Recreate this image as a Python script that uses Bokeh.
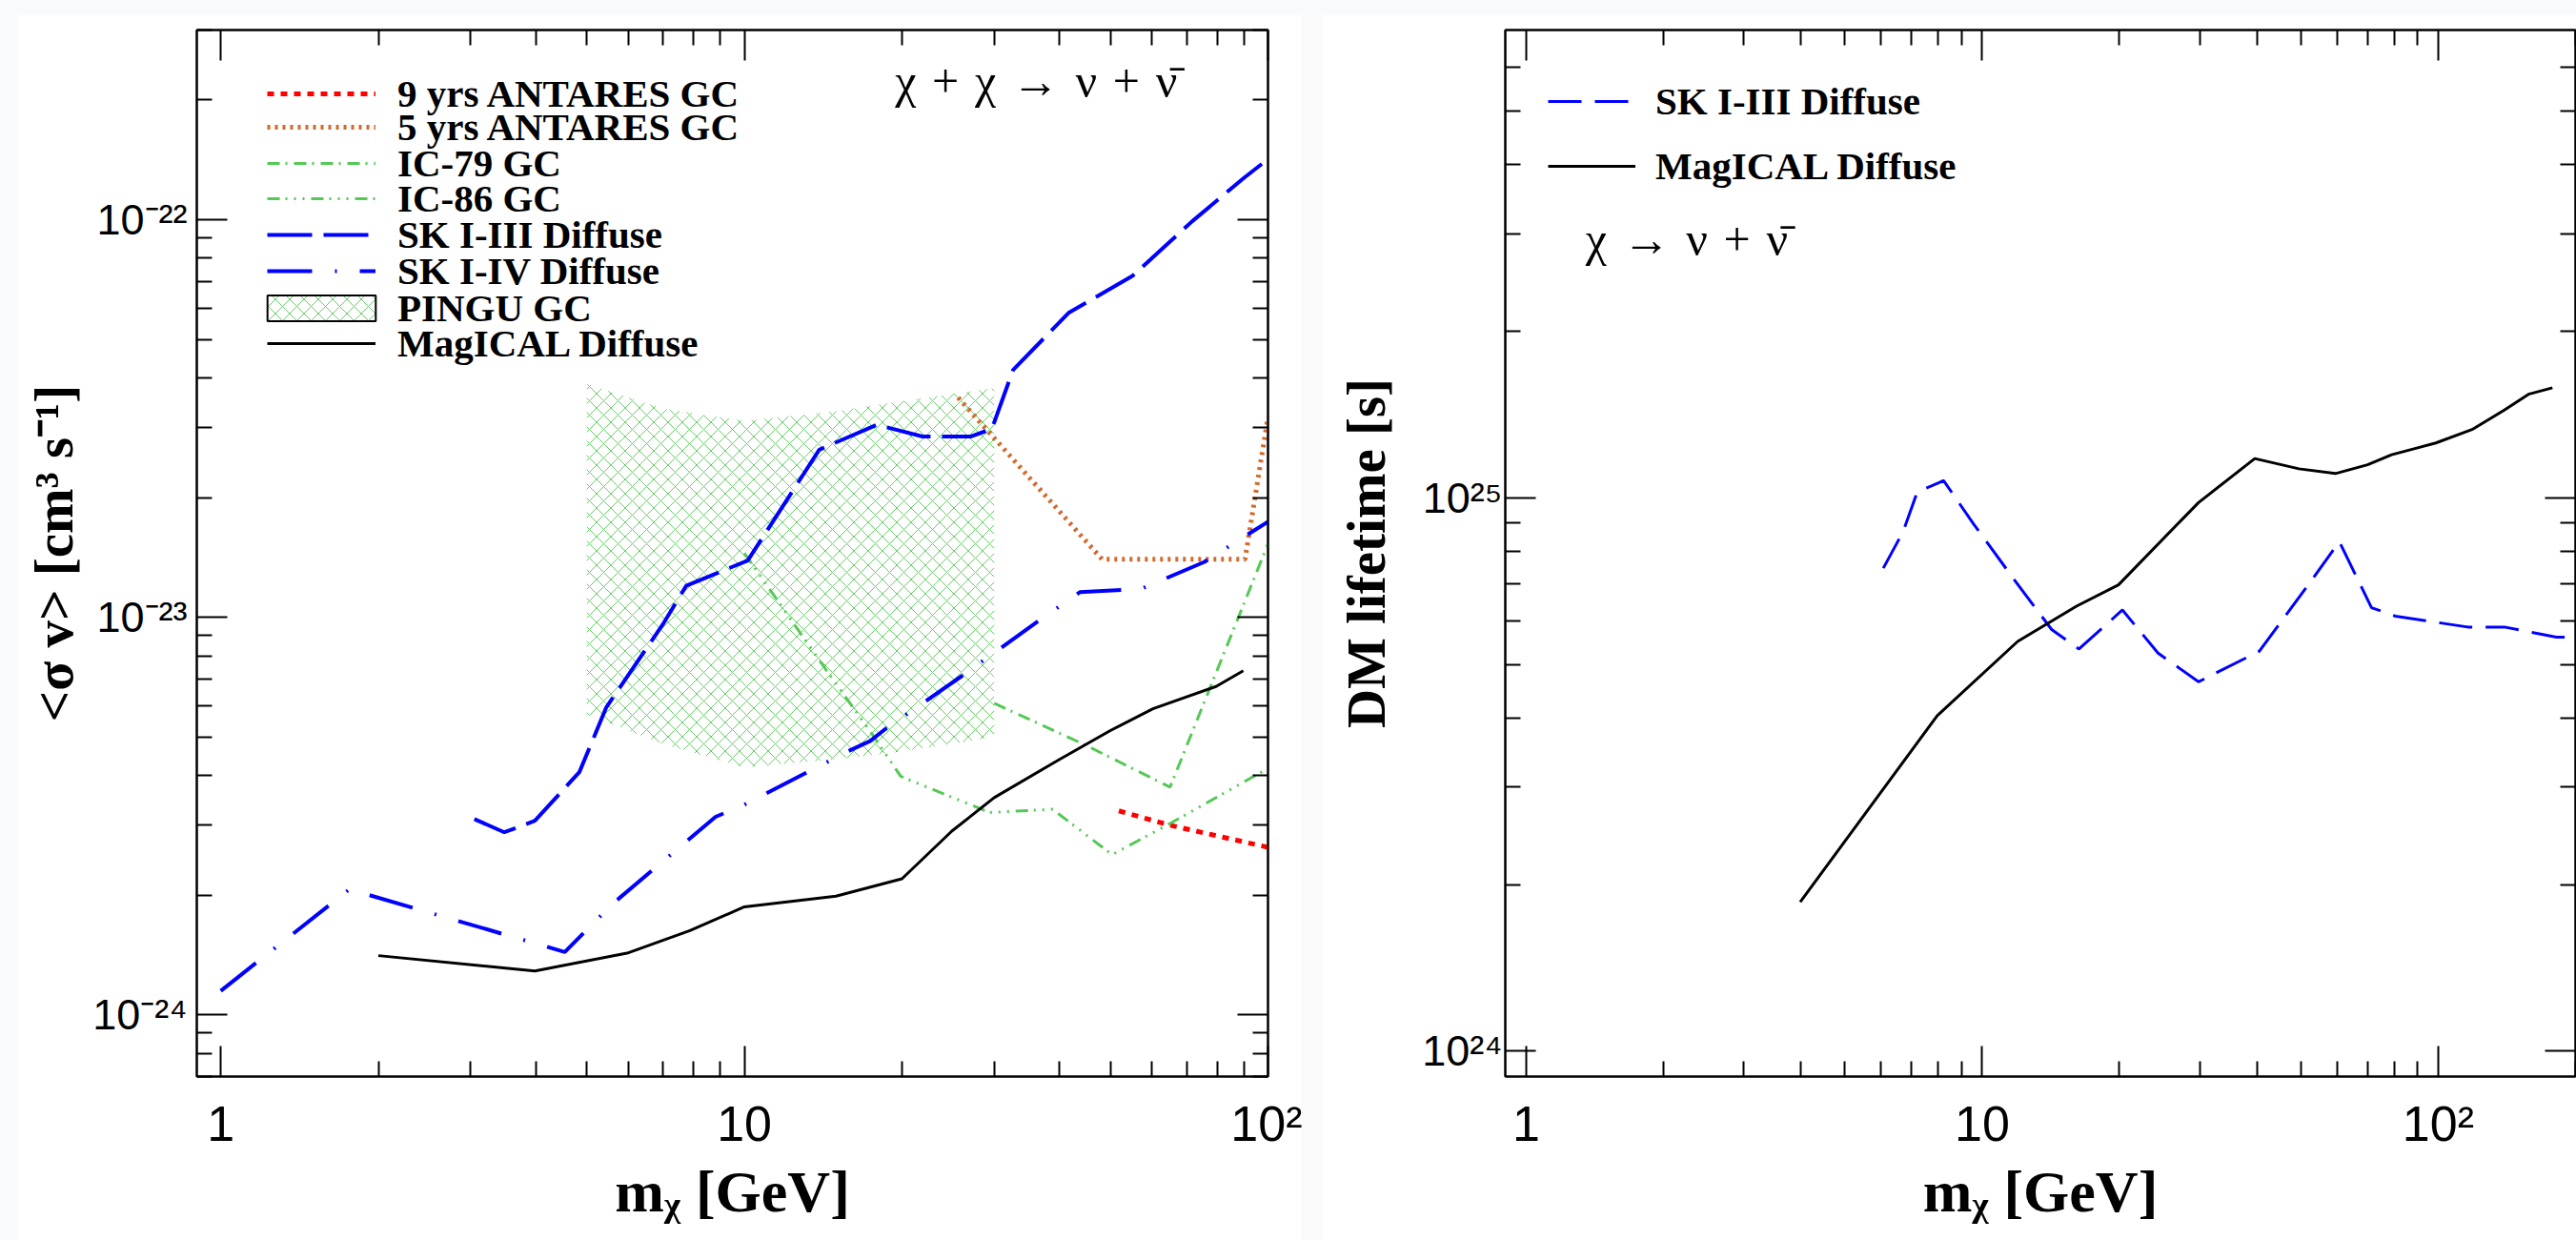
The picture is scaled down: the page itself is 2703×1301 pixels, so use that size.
from bokeh.plotting import figure
from bokeh.models import (LogAxis, FixedTicker, Legend, LegendItem, Label, Spacer, Range1d)
from bokeh.layouts import row, column
from bokeh.embed import file_html
from bokeh.resources import INLINE

# ---------------- Left panel data: <sigma v> vs m_chi ----------------
ant9_m = [51.9, 65.0, 100.0]
ant9_sv = [3.26e-24, 3.0e-24, 2.64e-24]

ant5_m = [25.6, 48.2, 90.4, 100.0]
ant5_sv = [3.57e-23, 1.40e-23, 1.40e-23, 3.19e-23]

ic79_m = [30.0, 44.7, 65.0, 100.0]
ic79_sv = [6.08e-24, 4.78e-24, 3.74e-24, 1.53e-23]

ic86_m = [10.0, 14.3, 17.6, 19.9, 29.4, 38.8, 50.4, 65.0, 100.0]
ic86_sv = [1.45e-23, 7.4e-24, 5.05e-24, 3.98e-24, 3.23e-24, 3.29e-24, 2.53e-24, 3.03e-24, 4.17e-24]

sk3_m = [3.05, 3.48, 3.98, 4.84, 5.45, 6.98, 7.74, 10.15, 13.9, 17.9, 21.9, 27.1, 29.7, 32.6, 41.6, 55.1, 71.6, 89.7, 100.0]
sk3_sv = [3.11e-24, 2.88e-24, 3.08e-24, 4.08e-24, 5.94e-24, 9.58e-24, 1.20e-23, 1.39e-23, 2.64e-23, 3.05e-23,
          2.85e-23, 2.85e-23, 2.98e-23, 4.19e-23, 5.83e-23, 7.22e-23, 9.9e-23, 1.27e-22, 1.42e-22]

sk4_m = [1.0, 1.76, 4.54, 5.62, 8.81, 10.0, 13.1, 15.8, 17.4, 18.6, 26.1, 36.2, 43.7, 57.3, 75.5, 100.0]
sk4_sv = [1.15e-24, 2.07e-24, 1.44e-24, 1.91e-24, 3.15e-24, 3.38e-24, 4.06e-24, 4.61e-24, 4.89e-24, 5.24e-24,
          7.14e-24, 9.73e-24, 1.157e-23, 1.18e-23, 1.377e-23, 1.74e-23]

pingu_m = [5.0, 7.0, 10.0, 15.0, 20.0, 30.0]
pingu_hi = [3.86e-23, 3.35e-23, 3.12e-23, 3.3e-23, 3.5e-23, 3.77e-23]
pingu_lo = [5.7e-24, 4.8e-24, 4.2e-24, 4.4e-24, 4.6e-24, 5.0e-24]

mag_ann_m = [2.0, 3.98, 5.97, 7.87, 10.0, 14.96, 20.0, 24.9, 30.0, 39.7, 50.0, 60.3, 79.6, 89.7]
mag_ann_sv = [1.41e-24, 1.29e-24, 1.43e-24, 1.63e-24, 1.87e-24, 1.99e-24, 2.2e-24, 2.9e-24, 3.52e-24,
              4.37e-24, 5.19e-24, 5.89e-24, 6.7e-24, 7.34e-24]

left_labels = ["9 yrs ANTARES GC", "5 yrs ANTARES GC", "IC-79 GC", "IC-86 GC",
               "SK I-III Diffuse", "SK I-IV Diffuse", "PINGU GC", "MagICAL Diffuse"]

# ---------------- Right panel data: lifetime vs m_chi ----------------
mag_dec_m = [3.99, 7.97, 11.96, 16.1, 19.9, 29.8, 39.6, 49.5, 59.5, 70.0, 79.0, 98.8, 118.6, 139.6, 157.7, 178.0]
mag_dec_tau = [1.86e24, 4.04e24, 5.5e24, 6.37e24, 6.96e24, 9.8e24, 1.177e25, 1.128e25, 1.106e25, 1.147e25,
               1.196e25, 1.256e25, 1.328e25, 1.44e25, 1.538e25, 1.58e25]

sk3_dec_m = [6.07, 6.71, 7.2, 8.23, 9.56, 11.7, 14.2, 16.3, 20.3, 24.3, 29.8, 40.5, 51.6, 60.7, 71.4, 80.6,
             116.0, 139.6, 181.6, 200.0]
sk3_dec_tau = [7.46e24, 8.69e24, 1.023e25, 1.074e25, 8.98e24, 7.15e24, 5.78e24, 5.33e24, 6.27e24, 5.24e24,
               4.65e24, 5.28e24, 6.92e24, 8.33e24, 6.33e24, 6.11e24, 5.84e24, 5.84e24, 5.6e24, 5.6e24]

right_labels = ["SK I-III Diffuse", "MagICAL Diffuse"]

# ---------------- tick definitions ----------------
x_major = [1.0, 10.0, 100.0]
x_major_labels = ["1", "10", "10\u00b2"]
x_minor_left = [2, 3, 4, 5, 6, 7, 8, 9, 20, 30, 40, 50, 60, 70, 80, 90]
x_minor_right = x_minor_left + [200]

y1_major = [1e-24, 1e-23, 1e-22]
y1_major_labels = ["10\u207b\u00b2\u2074", "10\u207b\u00b2\u00b3", "10\u207b\u00b2\u00b2"]
y1_minor = [7e-25, 8e-25, 9e-25] + [k * 1e-24 for k in range(2, 10)] + [k * 1e-23 for k in range(2, 10)] + [2e-22, 3e-22]

y2_major = [1e24, 1e25]
y2_major_labels = ["10\u00b2\u2074", "10\u00b2\u2075"]
y2_minor = [k * 1e24 for k in range(2, 10)] + [k * 1e25 for k in range(2, 8)]

# ---------------- styles ----------------
RED = "#ff0000"
BROWN = "#d2692d"
GREEN = "#55c855"
HATCH = "#66cc66"
BLUE = "#0000ff"
SERIF = "Liberation Serif"
SANS = "Liberation Sans"
LEG_FONT = "41px"
ROWH = 56


def setup_axes(p, xmin, ymaj, ymaj_lab, ymin, xlab, ylab, ytick_size, ylab_standoff, ytick_standoff):
    xt = FixedTicker(ticks=x_major, minor_ticks=xmin)
    yt = FixedTicker(ticks=ymaj, minor_ticks=ymin)
    p.xaxis.ticker = xt
    p.yaxis.ticker = yt
    p.xaxis.major_label_overrides = dict(zip(x_major, x_major_labels))
    p.yaxis.major_label_overrides = dict(zip(ymaj, ymaj_lab))
    for ax in (p.xaxis[0], p.yaxis[0]):
        ax.major_tick_in = 32
        ax.major_tick_out = 0
        ax.minor_tick_in = 16
        ax.minor_tick_out = 0
        ax.axis_line_width = 2
        ax.axis_line_color = "black"
        ax.major_tick_line_width = 2
        ax.minor_tick_line_width = 2
        ax.major_tick_line_color = "black"
        ax.minor_tick_line_color = "black"
        ax.major_label_text_font = SANS
        ax.major_label_text_color = "black"
        ax.axis_label_text_font = SERIF
        ax.axis_label_text_font_style = "bold"
        ax.axis_label_text_color = "black"
    p.yaxis.axis_label_text_font_size = "57px"
    p.xaxis.axis_label_text_font_size = "62px"
    p.xaxis.major_label_text_font_size = "52px"
    p.xaxis.major_label_standoff = 20
    p.xaxis.axis_label_standoff = 5
    p.yaxis.major_label_text_font_size = ytick_size
    p.yaxis.major_label_standoff = ytick_standoff
    p.yaxis.axis_label_standoff = ylab_standoff
    p.xaxis.axis_label = xlab
    p.yaxis.axis_label = ylab
    # mirrored axes (ticks only)
    for side, tick_src in (("above", (x_major, xmin)), ("right", (ymaj, ymin))):
        ax = LogAxis(ticker=FixedTicker(ticks=tick_src[0], minor_ticks=tick_src[1]),
                     major_tick_in=32, major_tick_out=0, minor_tick_in=16, minor_tick_out=0,
                     axis_line_width=2, axis_line_color="black",
                     major_tick_line_width=2, minor_tick_line_width=2,
                     major_tick_line_color="black", minor_tick_line_color="black",
                     major_label_text_font_size="1px", major_label_text_alpha=0,
                     major_label_standoff=0)
        p.add_layout(ax, side)
    p.outline_line_color = "black"
    p.outline_line_width = 2
    p.xgrid.visible = False
    p.ygrid.visible = False
    p.background_fill_color = "white"
    p.border_fill_color = "white"


def row_legend(p, label, rend, fh, glyph_left, center, glyph_w, glyph_h, standoff):
    """One legend row; glyph_left / center are offsets from frame left / frame top."""
    lg = Legend(items=[LegendItem(label=label, renderers=[rend])],
                location=(glyph_left, fh - (center - ROWH / 2) - ROWH),
                margin=0, padding=0, spacing=0,
                glyph_width=glyph_w, glyph_height=glyph_h, label_height=ROWH,
                label_standoff=standoff, label_text_font=SERIF, label_text_font_style="bold",
                label_text_font_size=LEG_FONT, label_text_color="black",
                border_line_alpha=0, background_fill_alpha=0)
    p.add_layout(lg, "center")


# ================= LEFT PANEL =================
FH = 1286 - 16 - 163
p1 = figure(width=1348, height=1286, x_axis_type="log", y_axis_type="log",
            x_range=Range1d(0.9, 100), y_range=Range1d(7e-25, 3e-22),
            output_backend="svg", toolbar_location=None,
            min_border_left=188, min_border_right=36, min_border_top=16, min_border_bottom=163)

setup_axes(p1, x_minor_left, y1_major, y1_major_labels, y1_minor,
           "m\u1d6a [GeV]", "<\u03c3 v> [cm\u00b3 s\u207b\u00b9]", "45px", 6, 10)

p1.varea(x=pingu_m, y1=pingu_lo, y2=pingu_hi, fill_alpha=0,
         hatch_pattern="diagonal_cross", hatch_color=HATCH, hatch_scale=15, hatch_weight=1)

r_ant9 = p1.line(ant9_m, ant9_sv, line_color=RED, line_width=5, line_dash="7 7")
r_ant5 = p1.line(ant5_m, ant5_sv, line_color=BROWN, line_width=5, line_dash="3 5")
r_ic79 = p1.line(ic79_m, ic79_sv, line_color=GREEN, line_width=3, line_dash="13 6 2 7")
r_ic86 = p1.line(ic86_m, ic86_sv, line_color=GREEN, line_width=3, line_dash="13 6 2 7 2 7 2 7")
r_sk3 = p1.line(sk3_m, sk3_sv, line_color=BLUE, line_width=4, line_dash="47 12")
r_sk4 = p1.line(sk4_m, sk4_sv, line_color=BLUE, line_width=4, line_dash="47 24 2 24")
r_mag = p1.line(mag_ann_m, mag_ann_sv, line_color="black", line_width=3)
# legend-only sample for the hatched PINGU band (drawn with a black frame, zero size in the plot)
r_pingu_leg = p1.quad(left=[pingu_m[0]], right=[pingu_m[0]], bottom=[pingu_hi[0]], top=[pingu_hi[0]],
                      fill_alpha=0, hatch_pattern="diagonal_cross", hatch_color=HATCH,
                      hatch_scale=15, hatch_weight=1, line_color="black", line_width=2)

left_centers = [76.0, 110.5, 148.5, 186.0, 224.0, 262.0, 300.5, 337.5]
left_rends = [r_ant9, r_ant5, r_ic79, r_ic86, r_sk3, r_sk4, r_pingu_leg, r_mag]
for i, (lab, rend) in enumerate(zip(left_labels, left_rends)):
    if lab.startswith("PINGU"):
        row_legend(p1, lab, rend, FH, 60, left_centers[i], 142, 34, 9)
    else:
        row_legend(p1, lab, rend, FH, 74, left_centers[i], 114, ROWH, 23)

p1.add_layout(Label(x=19.4, y=2.23e-22,
                    text="\u03c7\u2004+\u2004\u03c7\u2004\u2192\u2004\u03bd\u2004+\u2004\u03bd\u0304",
                    text_font=SERIF, text_font_size="50px", text_color="black",
                    text_baseline="middle", text_align="left"))

# ================= RIGHT PANEL =================
FH2 = 1286 - 7 - 172
p2 = figure(width=1316, height=1286, x_axis_type="log", y_axis_type="log",
            x_range=Range1d(0.9, 200), y_range=Range1d(9e23, 7e25),
            output_backend="svg", toolbar_location=None,
            min_border_left=192, min_border_right=1, min_border_top=7, min_border_bottom=172)

setup_axes(p2, x_minor_right, y2_major, y2_major_labels, y2_minor,
           "m\u1d6a [GeV]", "DM lifetime [s]", "45px", 24, 3)

r2_sk3 = p2.line(sk3_dec_m, sk3_dec_tau, line_color=BLUE, line_width=3, line_dash="35 14")
r2_mag = p2.line(mag_dec_m, mag_dec_tau, line_color="black", line_width=3)

right_centers = [84.3, 152.3]
for lab, rend, c in zip(right_labels, [r2_sk3, r2_mag], right_centers):
    row_legend(p2, lab, rend, FH2, 45, c, 92, ROWH, 21)

p2.add_layout(Label(x=1.35, y=2.93e25,
                    text="\u03c7\u2004\u2192\u2004\u03bd\u2004+\u2004\u03bd\u0304",
                    text_font=SERIF, text_font_size="50px", text_color="black",
                    text_baseline="middle", text_align="left"))

BG = "#f9fafc"
layout = column(
    Spacer(width=2703, height=15),
    row(Spacer(width=18, height=1286), p1, Spacer(width=21, height=1286), p2),
    styles={"background-color": BG},
)

open("out.html", "w").write(file_html(layout, INLINE))
